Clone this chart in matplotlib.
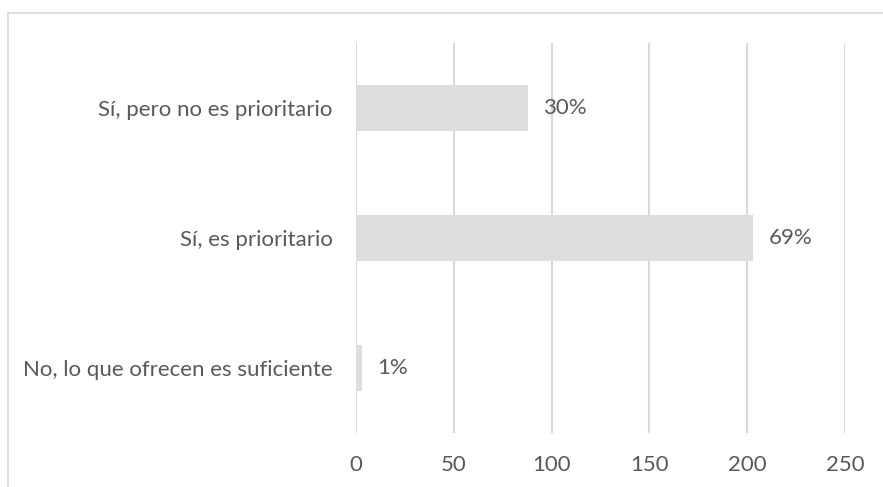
import matplotlib.pyplot as plt
from matplotlib.lines import Line2D

# respuestas (de abajo hacia arriba) y número de encuestados
categorias = ['No, lo que ofrecen es suficiente', 'Sí, es prioritario', 'Sí, pero no es prioritario']
respuestas = [3, 203, 88]
etiquetas = ['1%', '69%', '30%']
ticks_x = [0, 50, 100, 150, 200, 250]

W, H = 883, 487
texto_gris = '#595959'
linea_gris = '#D9D9D9'
barra_gris = '#DDDEE0'

plt.rcParams['font.family'] = ['Lato', 'DejaVu Sans']

fig = plt.figure(figsize=(W / 100, H / 100), dpi=100)
ax = fig.add_axes([356 / W, 1 - 433 / H, (845 - 356) / W, (433 - 43) / H])

pos = range(len(categorias))
ax.barh(pos, respuestas, height=0.35, color=barra_gris, zorder=2)

for y, v, txt in zip(pos, respuestas, etiquetas):
    ax.annotate(txt, (v, y), xytext=(11, 0), textcoords='offset points',
                va='center', ha='left', fontsize=16, color=texto_gris)

ax.set_xlim(0, 250)
ax.set_ylim(-0.5, len(categorias) - 0.5)
ax.set_xticks(ticks_x)
ax.set_yticks(list(pos))
ax.set_yticklabels(categorias)
ax.tick_params(axis='both', length=0, labelsize=16, labelcolor=texto_gris)
ax.tick_params(axis='y', pad=17)
ax.tick_params(axis='x', pad=16)

ax.grid(axis='x', color=linea_gris, linewidth=1.5, zorder=0)
ax.set_axisbelow(True)
for s in ax.spines.values():
    s.set_visible(False)

# marco del área del gráfico
fig.add_artist(Line2D([8 / W, 1], [1 - 13 / H, 1 - 13 / H], color=linea_gris, linewidth=1.2))
fig.add_artist(Line2D([8 / W, 8 / W], [1 - 13 / H, 0], color=linea_gris, linewidth=1.2))

fig.savefig('out.png', dpi=100)
